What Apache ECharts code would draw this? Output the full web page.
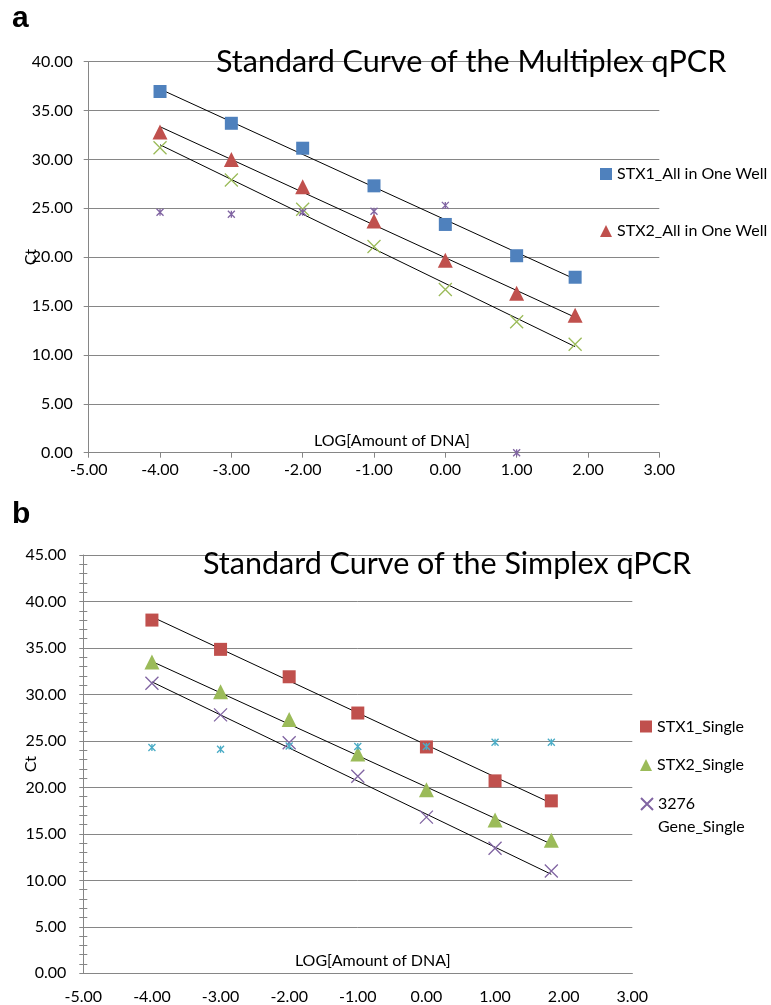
<!DOCTYPE html>
<html>
<head>
<meta charset="utf-8">
<script src="https://cdn.jsdelivr.net/npm/echarts@6/dist/echarts.min.js"></script>
<style>
  body { margin: 0; background: #fff; }
  #chart { width: 771px; height: 1005px; }
</style>
</head>
<body>
<div id="chart"></div>
<script>
// x = LOG[Amount of DNA]
var logDNA = [-4, -3, -2, -1, 0, 1, 1.82];
var fitX = [-4, 1.82];

// panel a - multiplex (all in one well)
var multiStx1 = [36.95, 33.7, 31.15, 27.3, 23.35, 20.15, 17.95];
var multiStx2 = [32.8, 30.0, 27.2, 23.7, 19.7, 16.3, 14.05];
var multiGene = [31.2, 27.9, 24.9, 21.1, 16.7, 13.4, 11.1];
var multiCtrl = [24.6, 24.4, 24.6, 24.7, 25.3, 0];
var multiFitStx1 = [37.2, 17.75];
var multiFitStx2 = [33.35, 13.85];
var multiFitGene = [31.5, 10.85];

// panel b - simplex (single)
var simpStx1 = [38.0, 34.85, 31.9, 28.0, 24.35, 20.7, 18.55];
var simpStx2 = [33.5, 30.3, 27.3, 23.6, 19.75, 16.5, 14.3];
var simpGene = [31.2, 27.8, 24.8, 21.2, 16.8, 13.45, 11.0];
var simpCtrl = [24.3, 24.1, 24.45, 24.4, 24.4, 24.85, 24.85];
var simpFitStx1 = [38.35, 18.3];
var simpFitStx2 = [33.55, 13.9];
var simpFitGene = [31.35, 10.65];

var blue = '#4F81BD', red = '#C0504D', green = '#9BBB59', purple = '#8064A2', cyan = '#4BACC6';
var grey = '#868686';
var font = 'Lato';
var crossPath = 'path://M0,0L10,10M10,0L0,10';
var starPath = 'path://M0,0L10,10M10,0L0,10M5,0L5,10';

function pts(xs, ys) {
  return ys.map(function (y, i) { return [xs[i], y]; });
}
function fmt(v) { return v.toFixed(2); }

function scatter(name, idx, ys, symbol, size, color) {
  var s = {
    name: name, type: 'scatter', xAxisIndex: idx, yAxisIndex: idx,
    data: pts(logDNA, ys), symbol: symbol, symbolSize: size,
    itemStyle: { color: color, opacity: 1 }
  };
  if (symbol.indexOf('path://') === 0) {
    s.itemStyle = { color: 'rgba(0,0,0,0)', borderColor: color, borderWidth: 1.3, opacity: 1 };
  }
  return s;
}
function fit(idx, ys) {
  return {
    type: 'line', xAxisIndex: idx, yAxisIndex: idx, data: pts(fitX, ys),
    showSymbol: false, silent: true, z: 1,
    lineStyle: { color: '#000', width: 1 }
  };
}
function xAx(idx, ticks, margin, gap, pad) {
  return {
    type: 'value', gridIndex: idx, min: -5, max: 3, interval: 1,
    name: 'LOG[Amount of DNA]', nameLocation: 'middle', nameGap: gap, nameMoveOverlap: false,
    nameTextStyle: { fontFamily: font, fontSize: 16, color: '#000', padding: [0, 0, 0, pad] },
    axisLine: { onZero: false, lineStyle: { color: grey } },
    axisTick: { show: ticks, length: 5, lineStyle: { color: grey } },
    splitLine: { show: false },
    axisLabel: { formatter: fmt, fontFamily: font, fontSize: 16, color: '#000', margin: margin }
  };
}
function yAx(idx, max, gap, margin) {
  return {
    type: 'value', gridIndex: idx, min: 0, max: max, interval: 5, position: 'left',
    name: 'Ct', nameLocation: 'middle', nameGap: gap, nameRotate: 90, nameMoveOverlap: false,
    nameTextStyle: { fontFamily: font, fontSize: 16, color: '#000' },
    axisLine: { show: true, onZero: false, lineStyle: { color: grey } },
    axisTick: { show: true, length: 5, lineStyle: { color: grey } },
    splitLine: { lineStyle: { color: grey, width: 1 } },
    axisLabel: { formatter: fmt, fontFamily: font, fontSize: 16, color: '#000', margin: margin }
  };
}
function leg(name, left, top, text) {
  var l = {
    data: [name], left: left, top: top, padding: 0, itemWidth: 12, itemHeight: 12, itemGap: 4,
    textStyle: { fontFamily: font, fontSize: 16, color: '#000', lineHeight: 23 }
  };
  if (text) l.formatter = function () { return text; };
  return l;
}

var yB = yAx(1, 45, 44, 17);
yB.axisTick.length = 4;
yB.minorTick = { show: true, splitNumber: 5, length: 4, lineStyle: { color: grey } };
var yBin = {
  type: 'value', gridIndex: 1, min: 0, max: 45, interval: 5, position: 'left',
  axisLine: { show: false, onZero: false }, axisLabel: { show: false }, splitLine: { show: false },
  axisTick: { show: true, inside: true, length: 4, lineStyle: { color: grey } },
  minorTick: { show: true, splitNumber: 5, length: 4, lineStyle: { color: grey } }
};

var chart = echarts.init(document.getElementById('chart'));
chart.setOption({
  backgroundColor: '#fff',
  animation: false,
  title: [
    { text: 'a', left: 12, top: 4, padding: 0, textStyle: { fontFamily: 'Liberation Sans', fontWeight: 'bold', fontSize: 30, color: '#000' } },
    { text: 'Standard Curve of the Multiplex qPCR', left: 216, top: 47, padding: 0, textStyle: { fontFamily: font, fontWeight: 'normal', fontSize: 30.5, color: '#000' } },
    { text: 'b', left: 12, top: 500, padding: 0, textStyle: { fontFamily: 'Liberation Sans', fontWeight: 'bold', fontSize: 30, color: '#000' } },
    { text: 'Standard Curve of the Simplex qPCR', left: 203, top: 549, padding: 0, textStyle: { fontFamily: font, fontWeight: 'normal', fontSize: 30.5, color: '#000' } }
  ],
  legend: [
    leg('STX1_All in One Well', 600, 162.5),
    leg('STX2_All in One Well', 600, 219.5),
    leg('STX1_Single', 640, 715),
    leg('STX2_Single', 640, 753.5),
    leg('3276 Gene_Single', 640, 769.5, ' \n3276\nGene_Single')
  ],
  grid: [
    { left: 88.7, top: 61.7, width: 570.6, height: 391, outerBoundsMode: 'none' },
    { left: 83.3, top: 555, width: 549, height: 418.3, outerBoundsMode: 'none' }
  ],
  xAxis: [xAx(0, true, 9, -20, 36), xAx(1, false, 16, -20, 30)],
  yAxis: [yAx(0, 40, 50, 16), yB, yBin],
  series: [
    scatter('STX1_All in One Well', 0, multiStx1, 'rect', 13, blue),
    scatter('STX2_All in One Well', 0, multiStx2, 'triangle', 15, red),
    scatter('3276 Gene_All in One Well', 0, multiGene, crossPath, 13, green),
    scatter('Control_All in One Well', 0, multiCtrl, starPath, 7, purple),
    fit(0, multiFitStx1), fit(0, multiFitStx2), fit(0, multiFitGene),
    scatter('STX1_Single', 1, simpStx1, 'rect', 13, red),
    scatter('STX2_Single', 1, simpStx2, 'triangle', 15, green),
    scatter('3276 Gene_Single', 1, simpGene, crossPath, 13, purple),
    scatter('Control_Single', 1, simpCtrl, starPath, 7, cyan),
    fit(1, simpFitStx1), fit(1, simpFitStx2), fit(1, simpFitGene)
  ]
});
</script>
</body>
</html>
